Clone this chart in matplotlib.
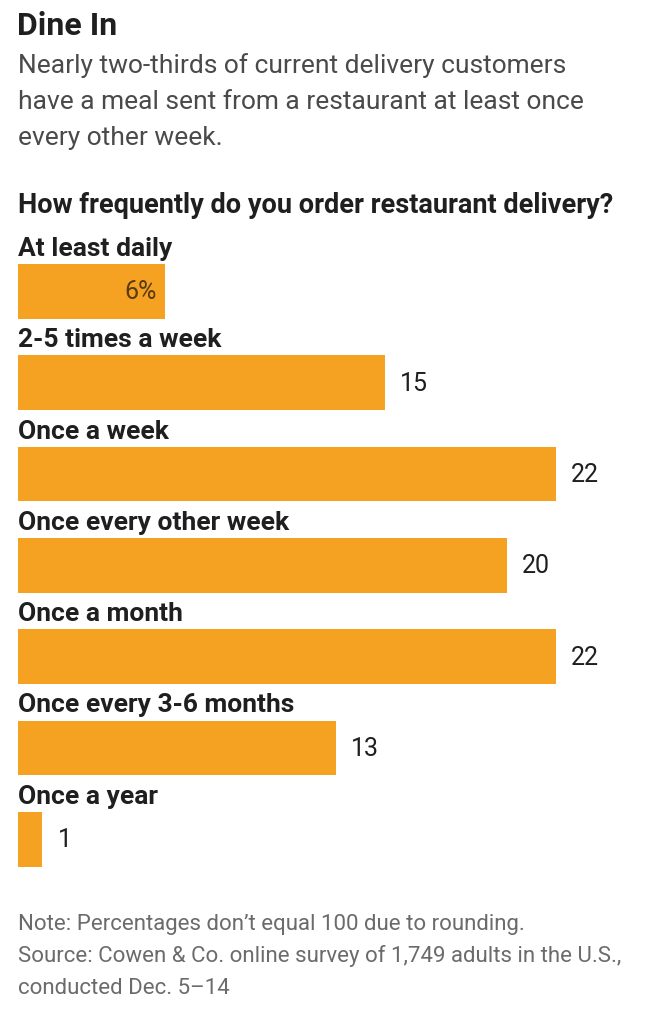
import matplotlib
matplotlib.use("Agg")
import matplotlib.pyplot as plt

# data
categories = ["At least daily", "2-5 times a week", "Once a week",
              "Once every other week", "Once a month",
              "Once every 3-6 months", "Once a year"]
shares = [6, 15, 22, 20, 22, 13, 1]
value_labels = ["6%", "15", "22", "20", "22", "13", "1"]

title = "Dine In"
subtitle = ["Nearly two-thirds of current delivery customers",
            "have a meal sent from a restaurant at least once",
            "every other week."]
question = "How frequently do you order restaurant delivery?"
notes = ["Note: Percentages don\u2019t equal 100 due to rounding.",
         "Source: Cowen & Co. online survey of 1,749 adults in the U.S.,",
         "conducted Dec. 5\u201314"]

BAR = "#f5a122"
DARK = "#1f1f1f"
GREY = "#4a4a4a"
NOTE = "#6b6b6b"

plt.rcParams["font.family"] = ["Roboto", "DejaVu Sans"]

W, H = 650, 1012
fig = plt.figure(figsize=(W / 100, H / 100), dpi=100)
fig.patch.set_facecolor("white")


def fx(x):
    return x / W


def fy(y):
    return 1 - y / H


# header
fig.text(fx(17), fy(35), title, fontsize=23, fontweight="bold", color=DARK, va="baseline")
for k, line in enumerate(subtitle):
    fig.text(fx(18), fy(73 + k * 36), line, fontsize=19, color=GREY, va="baseline")
fig.text(fx(18), fy(213), question, fontsize=19.5, fontweight="bold", color=DARK, va="baseline")

# bars, one row per category
px_per_unit = 24.45
top, bottom = 240, 880
row0, step = 292.5, 91.3
ax = fig.add_axes([fx(18), fy(bottom), fx(W - 18), (bottom - top) / H])
ax.set_xlim(0, (W - 18) / px_per_unit)
ax.set_ylim((bottom - row0) / step, (top - row0) / step)
ax.axis("off")

ypos = list(range(len(categories)))
ax.barh(ypos, shares, height=0.6, color=BAR, left=0)

for i, (cat, v, lab) in enumerate(zip(categories, shares, value_labels)):
    ax.text(0, i - 0.40, cat, fontsize=19, fontweight="bold", color=DARK, va="baseline")
    if i == 0:
        ax.text(v - 0.33, i, lab, fontsize=18, color="#5a3a12", ha="right", va="center")
    else:
        ax.text(v + 0.62, i, lab, fontsize=18, color=DARK, ha="left", va="center")

# footnotes
for k, line in enumerate(notes):
    fig.text(fx(18), fy(930 + k * 32), line, fontsize=16, color=NOTE, va="baseline")

fig.savefig("out.png", dpi=100)
